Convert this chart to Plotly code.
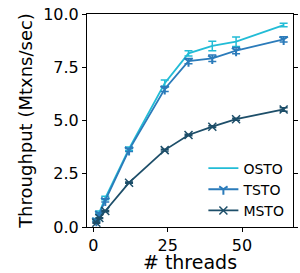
import plotly.graph_objects as go

threads = [1, 2, 4, 12, 24, 32, 40, 48, 64]
osto = [0.35, 0.70, 1.36, 3.68, 6.75, 8.15, 8.50, 8.70, 9.48]
osto_err = [0.05, 0.05, 0.08, 0.08, 0.15, 0.12, 0.22, 0.22, 0.08]
tsto = [0.30, 0.62, 1.25, 3.62, 6.48, 7.79, 7.92, 8.28, 8.81]
tsto_err = [0.05, 0.05, 0.08, 0.08, 0.12, 0.12, 0.15, 0.15, 0.12]
msto = [0.20, 0.42, 0.75, 2.08, 3.61, 4.32, 4.71, 5.06, 5.52]
msto_err = [0.02, 0.02, 0.03, 0.03, 0.04, 0.04, 0.04, 0.05, 0.08]

c_osto = "#22bcd6"
c_tsto = "#2b7bba"
c_msto = "#1d4e69"

fig = go.Figure()
fig.add_trace(go.Scatter(
    x=threads, y=osto, name="OSTO", mode="lines",
    line=dict(color=c_osto, width=1.8),
    error_y=dict(type="data", array=osto_err, color=c_osto, thickness=1.5, width=4),
))
fig.add_trace(go.Scatter(
    x=threads, y=tsto, name="TSTO", mode="lines+markers",
    line=dict(color=c_tsto, width=1.8),
    marker=dict(symbol="y-down", size=7, color=c_tsto, line=dict(color=c_tsto, width=2)),
    error_y=dict(type="data", array=tsto_err, color=c_tsto, thickness=1.5, width=4),
))
fig.add_trace(go.Scatter(
    x=threads, y=msto, name="MSTO", mode="lines+markers",
    line=dict(color=c_msto, width=1.8),
    marker=dict(symbol="x-thin", size=8, color=c_msto, line=dict(color=c_msto, width=1.5)),
    error_y=dict(type="data", array=msto_err, color=c_msto, thickness=1.5, width=4),
))

fig.update_layout(
    width=300, height=273,
    margin=dict(l=87, r=2, t=14, b=46),
    paper_bgcolor="white", plot_bgcolor="white",
    font=dict(family="DejaVu Sans", size=16, color="black"),
    showlegend=True,
    legend=dict(x=0.565, y=0.35, xanchor="left", yanchor="top",
                bgcolor="rgba(0,0,0,0)", font=dict(size=14),
                tracegroupgap=0, itemwidth=30),
    xaxis=dict(range=[-2.15, 67.15], tickvals=[0, 25, 50], ticks="outside",
               ticklen=4, tickcolor="black", showline=True, linecolor="black",
               linewidth=1, mirror=True, showgrid=False, zeroline=False,
               title=dict(text="# threads", standoff=0)),
    yaxis=dict(range=[0, 10], tickvals=[0, 2.5, 5, 7.5, 10], tickformat=".1f",
               ticks="outside", ticklen=4, tickcolor="black", showline=True,
               linecolor="black", linewidth=1, mirror="ticks", showgrid=False,
               zeroline=False,
               title=dict(text="Throughput (Mtxns/sec)", standoff=5, font=dict(size=18))),
)

fig.write_html("out.html", config={"displayModeBar": False},
               post_script="document.body.style.margin='0';")
